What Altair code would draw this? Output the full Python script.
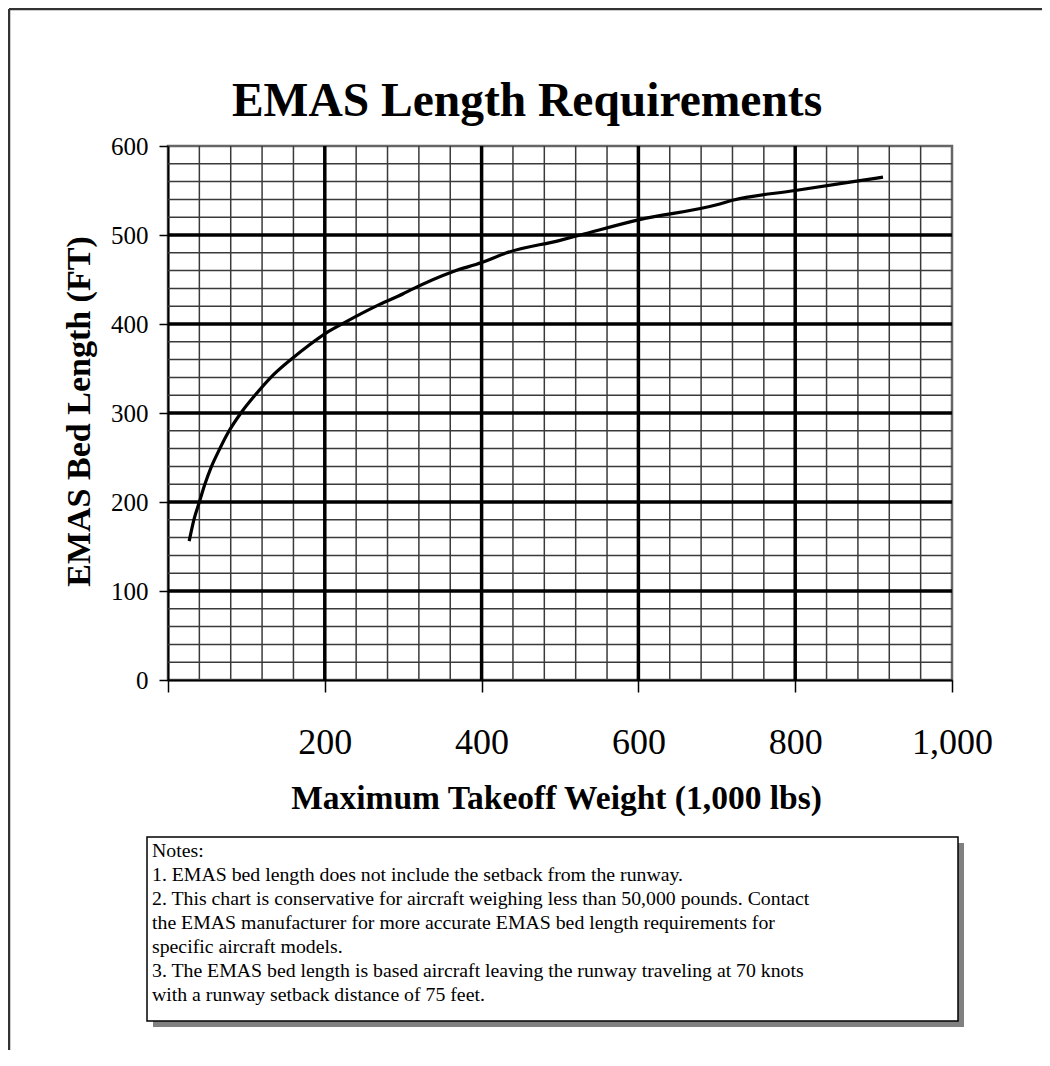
import altair as alt
import pandas as pd

# Curve
weight = [27, 33, 40, 47, 55, 65, 76, 93, 112, 130, 158, 181, 200, 224, 270, 300,
          309, 364, 400, 432, 500, 526, 600, 700, 720, 800, 874, 912]
length = [156, 180, 200, 220, 239, 258, 277, 300, 321, 339, 361, 377, 389, 401, 422, 434,
          438, 459, 469, 480, 494, 500, 517, 534, 539, 550, 560, 565]

x_ticks = [0, 200, 400, 600, 800, 1000]
y_ticks = [0, 100, 200, 300, 400, 500, 600]
x_major = [200, 400, 600, 800]
y_major = [100, 200, 300, 400, 500]
x_minor = [40, 80, 120, 160, 240, 280, 320, 360, 440, 480, 520, 560,
           640, 680, 720, 760, 840, 880, 920, 960]
y_minor = [20, 40, 60, 80, 120, 140, 160, 180, 220, 240, 260, 280, 320, 340, 360, 380,
           420, 440, 460, 480, 520, 540, 560, 580]

title_text = "EMAS Length Requirements"
x_title = "Maximum Takeoff Weight (1,000 lbs)"
y_title = "EMAS Bed Length (FT)"
notes = [
    "Notes:",
    "1. EMAS bed length does not include the setback from the runway.",
    "2. This chart is conservative for aircraft weighing less than 50,000 pounds.  Contact",
    "the EMAS manufacturer for more accurate EMAS bed length requirements for",
    "specific aircraft models.",
    "3. The EMAS bed length is based aircraft leaving the runway traveling at 70 knots",
    "with a runway setback distance of 75 feet.",
]

FONT = "Liberation Serif"
W, H = 784, 534

xs = alt.Scale(domain=[0, 1000], nice=False, zero=False)
ys = alt.Scale(domain=[0, 600], nice=False, zero=False)

x_axis = alt.Axis(
    values=x_ticks, grid=False, domain=True, domainColor="black", domainWidth=2,
    ticks=True, tickSize=12, tickColor="black", tickWidth=1.5,
    labelExpr="datum.value == 0 ? '' : format(datum.value, ',')",
    labelFont=FONT, labelFontSize=36, labelColor="black", labelPadding=33,
    labelFlush=False, labelOverlap=False,
    title=x_title, titleFont=FONT, titleFontSize=33.5, titleFontWeight="bold",
    titleColor="black", titleX=388, titleY=128, titleBaseline="alphabetic",
    titleAlign="center")
y_axis = alt.Axis(
    values=y_ticks, grid=False, domain=True, domainColor="black", domainWidth=2,
    ticks=True, tickSize=9, tickColor="black", tickWidth=1.5,
    labelFont=FONT, labelFontSize=25, labelColor="black", labelPadding=11,
    labelFlush=False, labelOverlap=False,
    title=y_title, titleFont=FONT, titleFontSize=34, titleFontWeight="bold",
    titleColor="black", titleX=-79, titleY=265, titleAngle=270,
    titleBaseline="alphabetic", titleAlign="center")

curve_df = pd.DataFrame({"w": weight, "l": length})
one = pd.DataFrame({"a": [0]})

minor_x = alt.Chart(pd.DataFrame({"w": x_minor})).mark_rule(
    color="#3a3a3a", strokeWidth=1.5).encode(x=alt.X("w:Q", scale=xs, axis=x_axis))
minor_y = alt.Chart(pd.DataFrame({"l": y_minor})).mark_rule(
    color="#3a3a3a", strokeWidth=1.5).encode(y=alt.Y("l:Q", scale=ys, axis=y_axis))
major_x = alt.Chart(pd.DataFrame({"w": x_major})).mark_rule(
    color="black", strokeWidth=3.5).encode(x=alt.X("w:Q", scale=xs, axis=x_axis))
major_y = alt.Chart(pd.DataFrame({"l": y_major})).mark_rule(
    color="black", strokeWidth=3.5).encode(y=alt.Y("l:Q", scale=ys, axis=y_axis))

curve = alt.Chart(curve_df).mark_line(
    color="black", strokeWidth=3.2, interpolate="monotone").encode(
    x=alt.X("w:Q", scale=xs, axis=x_axis),
    y=alt.Y("l:Q", scale=ys, axis=y_axis),
)

title = alt.Chart(one).mark_text(
    text=title_text, font=FONT, fontSize=47.5, fontWeight="bold", color="black",
    align="center", baseline="alphabetic").encode(
    x=alt.value(359), y=alt.value(-30))

shadow = alt.Chart(one).mark_rect(fill="#808080").encode(
    x=alt.value(-15), x2=alt.value(796), y=alt.value(697), y2=alt.value(881))
box = alt.Chart(one).mark_rect(fill="white", stroke="black", strokeWidth=1.5).encode(
    x=alt.value(-21), x2=alt.value(790), y=alt.value(691), y2=alt.value(875))
note_text = alt.Chart(one).mark_text(
    text=notes, font=FONT, fontSize=19.8, color="black", align="left",
    baseline="top", lineHeight=24).encode(x=alt.value(-16), y=alt.value(695))

frame_top = alt.Chart(one).mark_rule(color="#333333", strokeWidth=2.5).encode(
    x=alt.value(-159), x2=alt.value(880), y=alt.value(-137))
frame_left = alt.Chart(one).mark_rule(color="#333333", strokeWidth=2.5).encode(
    x=alt.value(-159), y=alt.value(-137), y2=alt.value(920))

chart = alt.layer(
    frame_top, frame_left, title,
    minor_x, minor_y, major_x, major_y, curve,
    shadow, box, note_text,
).properties(
    width=W, height=H,
    autosize=alt.AutoSizeParams(type="none"),
    padding={"left": 160, "top": 138, "right": 90, "bottom": 370},
).configure_view(stroke="#666666", strokeWidth=2.5)

chart.save("out.html", embed_options={"renderer": "svg", "actions": False})
